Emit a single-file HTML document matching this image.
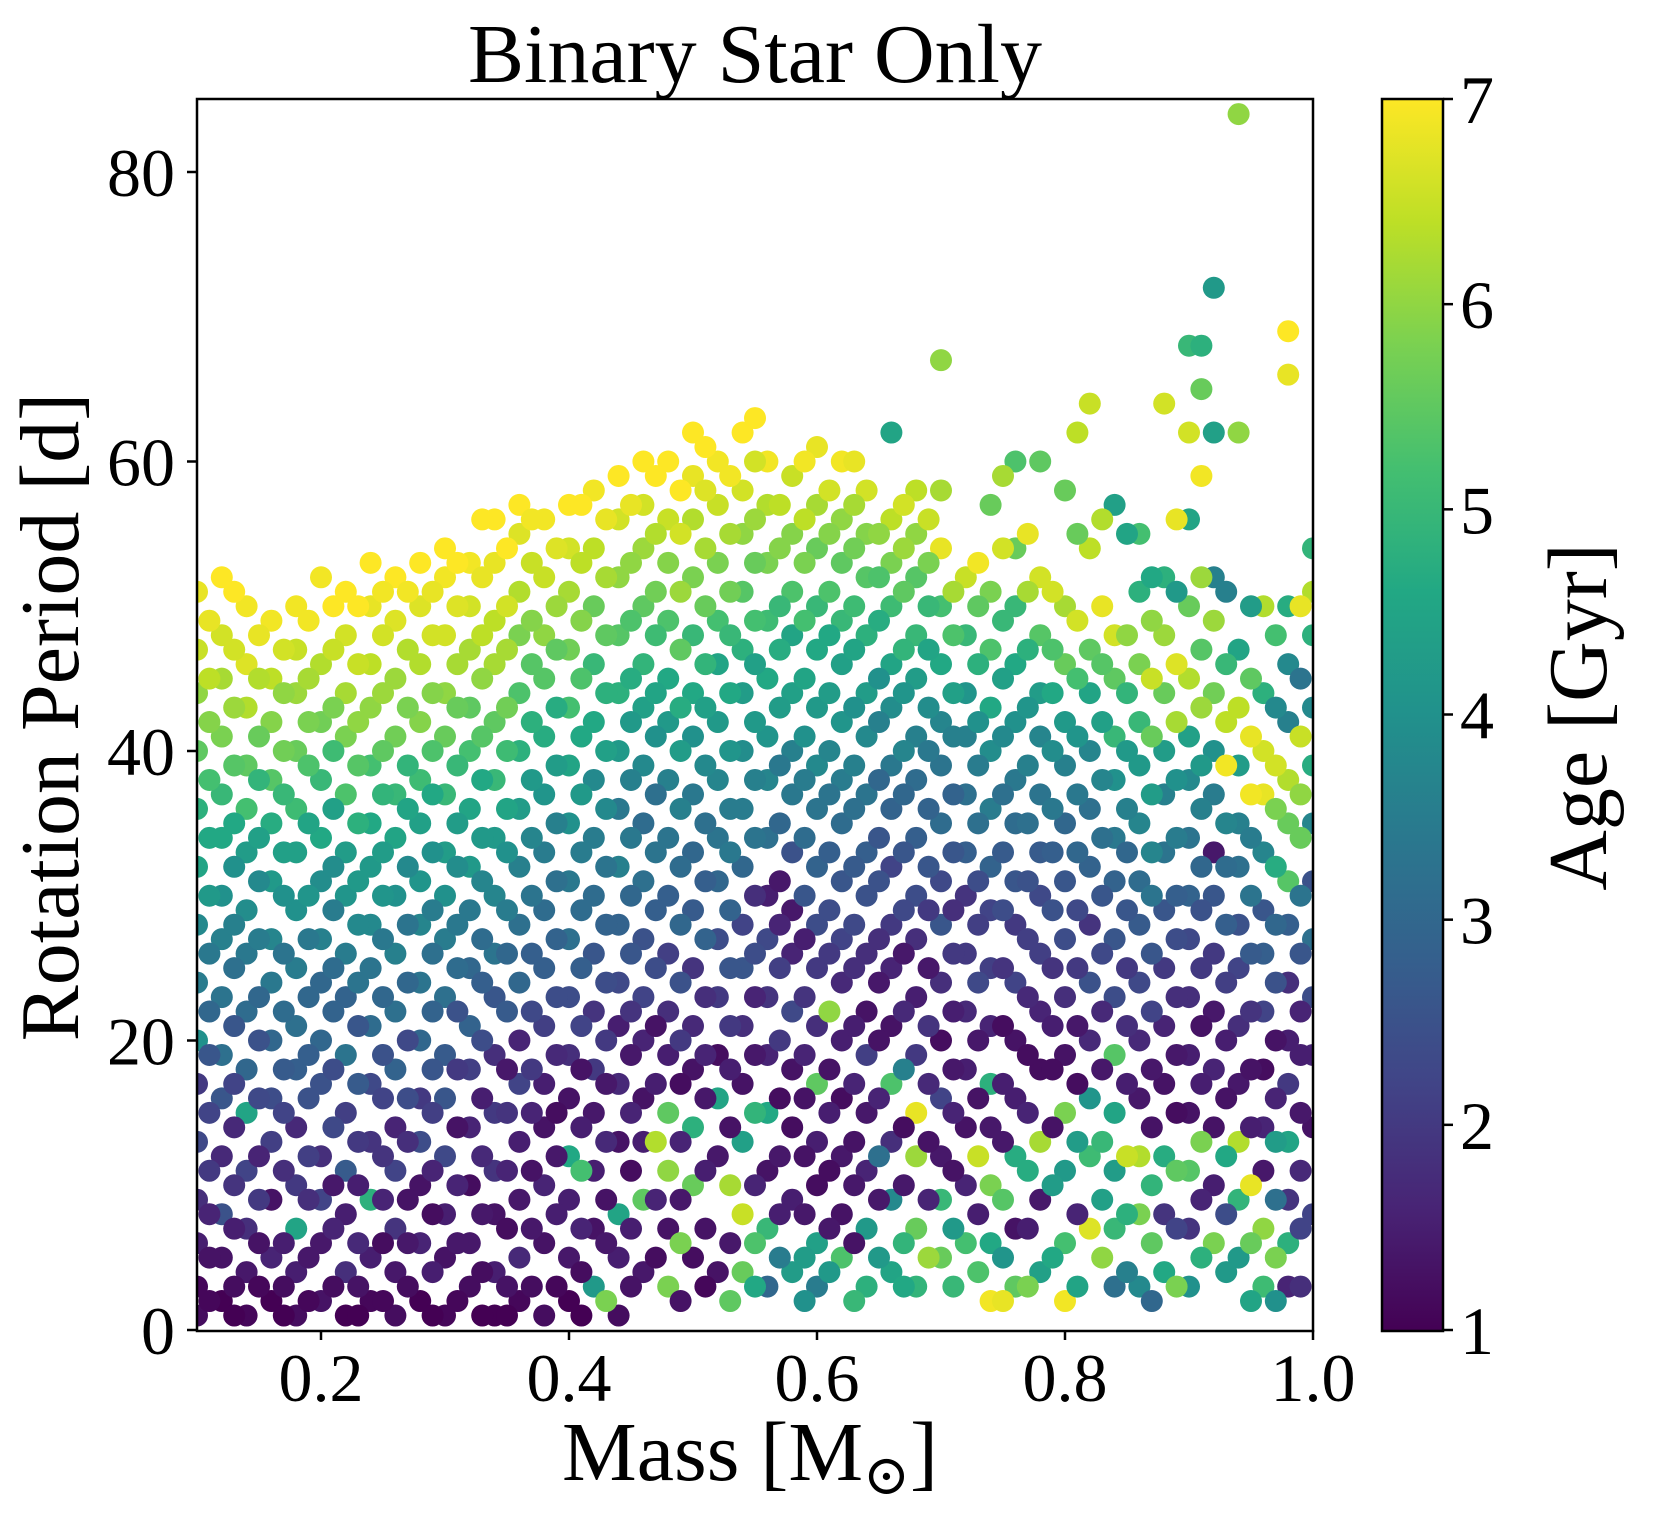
<!DOCTYPE html>
<html><head><meta charset="utf-8"><style>
html,body{margin:0;padding:0;background:#fff;}
svg{display:block;font-family:"Liberation Serif","DejaVu Serif",serif;}
</style></head><body>
<svg id="chart" width="1653" height="1531" viewBox="0 0 1653 1531" xmlns="http://www.w3.org/2000/svg">
<defs>
<linearGradient id="viridis" x1="0" y1="1" x2="0" y2="0">
<stop offset="0" stop-color="#440154"/><stop offset="0.1" stop-color="#482475"/><stop offset="0.2" stop-color="#414487"/><stop offset="0.3" stop-color="#355f8d"/><stop offset="0.4" stop-color="#2a788e"/><stop offset="0.5" stop-color="#21918c"/><stop offset="0.6" stop-color="#22a884"/><stop offset="0.7" stop-color="#44bf70"/><stop offset="0.8" stop-color="#7ad151"/><stop offset="0.9" stop-color="#bddf26"/><stop offset="1" stop-color="#fde725"/>
</linearGradient>
<clipPath id="plotclip"><rect x="197" y="99" width="1116" height="1232"/></clipPath>
</defs>
<text x="755" y="82" font-size="84" text-anchor="middle">Binary Star Only</text>
<g id="points" clip-path="url(#plotclip)"></g>
<rect x="197" y="99" width="1116" height="1232" fill="none" stroke="#000" stroke-width="2.5"/>
<g id="xaxis"></g>
<g id="yaxis"></g>
<text x="750" y="1480" font-size="84" text-anchor="middle">Mass [M<tspan font-size="56" dy="14">⊙</tspan><tspan dy="-14">]</tspan></text>
<text transform="translate(78,717) rotate(-90)" font-size="84" text-anchor="middle">Rotation Period [d]</text>
<rect x="1382" y="99" width="61" height="1232" fill="url(#viridis)" stroke="#000" stroke-width="2.5"/>
<g id="cbaxis"></g>
<text transform="translate(1606,717) rotate(-90)" font-size="84" text-anchor="middle">Age [Gyr]</text>
</svg>
<script>
const colMass = [0.10,0.12,0.14,0.16,0.18,0.20,0.22,0.24,0.26,0.28,0.30,0.32,0.34,0.36,0.38,0.40,0.42,0.44,0.46,0.48,0.50,0.52,0.54,0.56,0.58,0.60,0.62,0.64,0.66,0.68,0.70,0.72,0.74,0.76,0.78,0.80,0.82,0.84,0.86,0.88,0.90,0.92,0.94,0.96,0.98,1.00];
const colPeriods = [
[1,3,6,9,13,17,20,24,28,32,36,40,44,47,51],
[2,5,8,12,16,19,23,27,30,34,37,41,45,48,52],
[1,4,7,11,15,18,22,26,29,33,36,39,43,46,50],
[2,5,9,13,16,20,24,27,31,35,38,42,45,49],
[1,4,7,10,14,18,21,25,29,33,36,40,44,47,50],
[2,6,9,12,17,20,24,27,31,34,38,42,46,52],
[1,4,8,11,15,19,23,26,30,33,37,41,44,48,51],
[2,5,9,13,17,21,25,28,32,35,39,43,46,50,53],
[1,4,7,11,14,18,22,26,30,34,37,41,45,49,52],
[2,6,10,13,16,20,24,28,31,35,38,42,46,50,53],
[1,5,8,12,16,19,23,27,30,33,37,41,44,48,52,54],
[3,6,10,14,18,21,25,29,32,36,40,43,47,50,53],
[1,4,8,11,15,19,23,26,30,34,38,42,46,49,53,56],
[2,5,9,13,17,20,24,28,32,36,40,44,48,51,55,57],
[1,6,10,14,17,21,25,29,33,37,41,45,48,52,56],
[2,5,9,12,16,19,23,27,31,35,39,43,47,51,54,57],
[3,7,11,15,18,22,26,30,34,38,42,46,50,54,58],
[1,5,8,13,17,21,24,28,32,36,40,44,48,52,56,59],
[4,9,13,16,20,23,27,31,35,39,43,46,50,54,57,60],
[3,7,11,15,19,22,26,30,34,38,42,45,49,53,56,60],
[5,10,14,18,21,25,29,33,37,41,44,48,52,56,59,62],
[4,12,16,19,23,27,31,34,38,42,46,49,53,57,60],
[4,8,13,17,21,25,28,32,36,40,44,47,51,55,58,62],
[3,7,11,15,19,23,27,30,34,38,41,45,49,53,57,60],
[4,9,14,18,22,26,29,33,37,40,44,48,51,55,59],
[3,6,10,13,17,21,25,28,32,36,39,43,47,50,54,57,61],
[5,8,12,16,20,24,27,31,35,38,42,46,49,53,56,60],
[3,7,11,15,19,22,26,30,33,37,41,44,48,52,55,58],
[4,9,13,17,21,25,28,32,36,39,43,46,50,53,56,62],
[3,7,12,15,19,23,27,30,34,38,41,45,48,52,55,58],
[5,9,12,16,20,24,28,31,35,39,42,46,50,54,58,67],
[6,10,14,18,22,26,30,33,37,41,44,48,52],
[2,6,10,14,17,21,25,29,32,36,40,43,47,51,57],
[3,7,12,16,20,24,28,31,35,38,42,46,50,54,60],
[4,9,13,18,22,26,30,33,37,41,44,48,52,60],
[2,6,11,15,19,23,27,31,35,39,42,46,50,58],
[7,12,16,20,24,28,32,36,40,44,47,54,64],
[3,7,11,15,19,23,27,31,34,38,41,45,48,57],
[3,8,12,16,20,24,28,31,35,39,42,46,51,55],
[4,8,12,17,21,25,29,33,37,40,44,48,52,64],
[3,7,11,15,19,23,27,30,34,38,41,45,50,56,62,68],
[6,10,14,18,22,26,30,33,37,40,44,49,52,62,72],
[5,9,13,17,21,25,28,32,35,39,43,47,62,84],
[3,7,11,14,18,22,26,29,33,37,40,44,50],
[3,6,9,13,17,20,24,28,31,35,38,42,46,50,66,69],
[8,14,19,23,27,31,35,39,43,48,51,54]
];
const colAges = [
[1.2,1.1,1.5,1.8,2.3,2,4,3.5,3.8,4.5,4.8,5.5,6,6.5,6.8],
[1,1.3,2.5,1.7,2.6,3.2,3.3,3.6,4,4.6,5,5.8,6.2,6.6,7],
[1.1,1.4,1.8,2.2,4.5,3,3.1,3.4,3.9,4.3,5.2,5.5,6.3,6.7,6.9],
[1,1.6,1.3,2.1,2.4,3,3.4,3.7,4.2,4.7,5.4,5.9,6.4,6.9],
[1.2,1.5,4.5,2,1.7,2.8,3.2,3.5,4,4.4,5.1,5.6,6.1,6.5,6.9],
[1.3,1.4,2.2,1.8,2.5,3,3,3.6,3.9,4.6,5,5.7,6.3,6.9],
[1,1.8,1.5,2.7,2.1,3.3,2.9,3.5,4.1,4.3,5.3,5.8,6.2,6.6,7],
[1.1,1.5,4.8,1.9,2.3,3.1,3.3,3.8,4.2,4.6,5.2,6,6.4,6.8,7],
[1.2,1.4,1.9,2.2,1.6,2.9,3.2,3.6,4.0,4.5,5.0,5.7,6.1,6.7,7],
[1.0,1.6,1.3,2.4,2.0,3.0,3.3,3.7,4.1,4.4,5.1,5.9,6.3,6.7,7],
[1.1,1.3,1.5,2.3,2.6,2.7,3.2,3.5,4.0,4.3,5.0,5.6,6.0,6.6,6.9,7],
[1.2,1.4,1.2,1.6,2.1,2.9,3.0,3.4,4.2,4.5,5.2,5.5,6.2,6.6,6.9],
[1.0,1.5,1.3,1.9,2.0,1.8,2.6,3.3,3.7,4.2,5.0,5.5,6.2,6.4,6.8,7],
[1.1,1.7,1.4,1.5,2.2,1.6,3.0,3.2,3.6,4.3,4.8,5.3,5.8,6.3,6.7,7],
[1.2,1.3,1.6,1.3,1.5,2.1,2.8,3.1,3.5,4.1,4.7,5.4,6.0,6.5,6.9],
[1.0,1.4,1.5,4.6,1.3,1.8,2.4,3.2,3.4,4.0,4.5,5.2,5.7,6.2,6.6,7],
[4.2,1.3,1.5,1.4,2.0,1.9,2.6,3.1,3.5,3.8,4.6,5.0,5.6,6.4,6.9],
[1.2,1.5,4.5,1.3,1.7,1.5,2.3,2.9,3.6,3.4,4.2,4.8,5.4,6.0,6.6,7],
[1.4,5.5,1.5,1.3,1.6,2.2,2.5,3.2,3.1,3.8,4.4,4.9,5.5,6.1,6.6,7],
[5.8,1.3,6,5.5,1.5,1.8,2.1,2.8,3.3,3.6,4.2,4.6,5.3,5.9,6.5,7],
[1.2,5.6,4.8,1.3,1.7,1.9,2.7,3.0,3.4,4.0,4.6,5.0,5.8,6.3,6.8,7],
[1.3,1.4,4.5,1.2,2.0,2.4,3.0,3.3,3.7,4.2,4.5,5.2,5.8,6.5,6.9],
[5.6,6.5,4.4,1.3,1.8,2.6,2.2,3.0,3.5,3.9,4.3,4.8,5.4,6.0,6.6,7],
[3.0,5,1.3,4.6,1.6,1.9,2.3,1.5,3.2,3.7,4.1,4.6,5.1,5.8,6.3,6.9],
[4.3,1.5,1.2,1.3,2.3,1.6,1.4,2.5,3.4,3.6,4.4,4.5,5.3,5.9,6.5],
[3.5,4.4,1.2,1.5,5.5,1.8,2.0,2.4,2.9,3.3,3.8,4.2,4.6,5.0,5.6,6.2,6.8],
[5.3,1.3,1.4,1.2,1.5,1.7,2.2,2.6,3.1,3.5,4.1,4.4,5.0,5.5,6.0,6.9],
[4.8,4.2,1.6,1.4,2.1,1.3,1.8,2.5,2.8,3.3,3.8,4.3,4.8,5.4,5.9,6.6],
[4.5,3.8,1.8,5.3,1.3,1.6,2.0,2.2,2.9,3.4,3.9,4.5,5.1,5.8,6.4,4.5],
[4.9,5.6,6.1,6.8,2.0,1.5,1.8,2.4,2.8,3.1,3.6,4.3,5.0,5.4,6.0,6.4],
[5.6,5.0,1.4,2.2,1.2,1.8,2.6,2.3,3.1,3.3,3.7,4.6,5.2,6.8,6.2,6.0],
[5.2,1.6,1.3,1.5,1.7,2.0,1.9,2.8,3.2,3.6,4.1,5.0,6.5],
[6.9,4.6,5.8,1.4,4.8,1.6,2.1,2.2,2.9,3.5,3.9,4.6,5.3,5.8,5.6],
[5.5,1.3,4.7,1.5,1.3,2.2,2.0,2.6,3.1,3.4,4.0,4.6,5.0,5.6,5.3],
[4.4,1.4,6.2,1.2,1.6,2.1,2.3,2.7,3.3,3.7,4.3,5.4,6.6,5.5],
[6.9,5.2,4.2,5.8,1.3,1.8,2.4,2.6,3.0,3.6,4.2,5.6,6.2,5.6],
[6.7,5.1,4.1,1.7,2.5,1.9,2.9,3.2,3.7,4.5,5.5,6.4,6.5],
[3.2,5.0,4.3,4.5,5.4,2.4,2.6,2.9,3.4,4.0,5.0,5.5,6.6,4.4],
[3.8,5.8,6.3,1.4,1.7,2.3,2.7,3.1,3.7,4.2,5.0,5.8,4.8,5.2],
[4.6,1.9,4.7,1.3,1.6,2.0,2.6,3.3,3.6,4.3,5.6,6.1,4.8,6.6],
[4.0,1.9,5.4,1.3,1.5,1.8,2.3,2.9,3.3,3.8,4.4,6.3,5.6,4.5,6.6,5.0],
[5.8,1.5,1.3,1.6,1.4,2.0,2.6,1.4,3.5,4.0,5.7,6.1,3.6,4.4,4.2],
[4.2,4.9,6.3,1.4,1.8,2.2,2.5,3.2,3.6,4.3,6.4,4.5,6.0,6.0],
[5.1,6.0,1.4,1.6,1.2,2.2,2.8,2.6,3.7,6.8,6.6,4.8,6.3],
[1.6,4.8,1.9,4.5,2.0,1.5,1.8,2.8,5.4,5.6,6.3,3.6,3.8,4.7,6.8,7],
[2.2,1.3,1.6,2.4,3.2,2.5,3.7,4.7,3.8,4.8,6.3,4.9]
];
const colMass2 = [0.11,0.13,0.15,0.17,0.19,0.21,0.23,0.25,0.27,0.29,0.31,0.33,0.35,0.37,0.39,0.41,0.43,0.45,0.47,0.49,0.51,0.53,0.55,0.57,0.59,0.61,0.63,0.65,0.67,0.69,0.71,0.73,0.75,0.77,0.79,0.81,0.83,0.85,0.87,0.89,0.91,0.93,0.95,0.97,0.99];
const colPeriods2 = [
[2,5,8,11,15,19,22,26,30,34,38,42,45,49],
[1,3,7,10,14,17,21,25,28,32,35,39,43,47,51],
[3,6,9,12,16,20,23,27,31,34,38,41,45,48],
[1,3,6,11,15,18,22,26,30,33,37,40,44,47],
[2,5,9,12,16,19,23,27,30,35,39,42,45,49],
[3,7,10,14,18,22,25,29,32,36,40,43,47,50],
[1,3,6,10,13,17,21,24,28,31,35,39,42,46,50],
[2,6,9,12,16,19,23,27,30,33,37,40,44,48,51],
[3,6,9,13,16,20,24,28,32,36,39,43,47,51],
[1,4,8,11,15,18,22,26,29,33,37,40,44,48,51],
[2,6,10,14,18,22,25,28,32,35,39,43,46,50,53],
[1,4,8,12,16,20,24,27,31,34,38,41,45,48,52,56],
[1,3,7,11,15,18,22,26,29,33,36,40,43,47,50,54],
[3,7,11,15,18,22,26,30,34,38,42,46,49,53,56],
[3,8,12,15,19,23,27,31,35,39,43,47,50,54],
[1,4,7,11,14,18,21,25,29,33,37,41,45,49,53,57],
[2,6,9,13,17,20,24,28,32,36,40,44,48,52,56],
[3,7,11,15,19,22,26,30,34,38,42,45,49,53,57],
[5,9,13,17,21,25,29,33,37,41,44,48,51,55,59],
[2,6,9,13,17,20,24,28,32,36,40,43,47,51,55,58],
[3,7,11,16,19,23,27,31,35,39,43,46,50,54,58,61],
[2,6,10,14,18,21,25,29,33,36,40,44,48,51,55,59],
[3,6,10,15,19,23,26,30,34,38,42,46,49,53,56,60,63],
[5,8,12,16,20,25,28,31,35,39,43,47,50,54,57],
[2,5,8,12,16,19,23,27,30,34,38,41,45,49,53,56,60],
[4,7,11,15,18,22,26,29,33,37,40,44,48,51,55,58],
[2,6,10,13,17,21,25,28,32,36,39,43,47,50,54,57,60],
[5,9,12,16,20,24,27,31,34,38,42,45,49,52,55],
[3,6,10,14,18,22,26,29,33,37,40,44,47,51,54,57],
[5,9,13,17,21,25,29,32,36,40,43,47,50,53,56],
[3,7,11,15,18,22,26,29,33,37,41,44,48,51],
[4,8,12,16,20,24,28,31,35,39,42,46,50,53],
[2,5,9,13,17,21,25,29,33,37,41,45,49,54,59],
[3,7,11,15,19,23,27,31,35,39,43,47,51,55],
[5,10,14,18,21,25,29,33,36,40,44,47,51],
[3,8,13,17,21,25,29,33,37,41,45,49,55,62],
[5,9,13,18,22,26,30,34,38,42,46,50,56],
[4,8,12,17,21,25,29,33,36,40,44,48,55],
[2,6,10,14,18,22,26,30,33,37,41,45,49,52],
[3,7,11,15,19,23,27,30,34,38,42,46,51,56],
[5,9,13,17,21,25,29,32,36,39,43,47,52,59,65,68],
[4,8,12,16,20,24,28,32,35,39,42,46,51],
[2,6,10,14,18,22,26,30,34,37,41,45,50],
[2,5,9,13,16,20,24,28,32,36,39,43,48],
[3,7,11,15,19,22,26,30,34,37,41,45,50]
];
const colAges2 = [
[1.1,1.3,1.6,2.0,2.2,2.6,3.0,3.4,4.2,4.6,5.2,5.9,6.4,6.8],
[1.0,1.2,1.5,1.9,1.7,2.2,2.6,3.2,3.6,4.0,4.6,5.4,6.1,6.6,7],
[1.1,1.3,2.0,1.6,2.3,2.5,3.0,3.5,3.8,4.4,4.9,5.6,6.3,6.8],
[1.0,1.2,1.5,1.8,2.2,2.7,3.1,3.3,4.0,4.4,5.0,5.7,6.0,6.6],
[1.1,1.4,1.8,2.1,2.5,2.8,3.0,3.4,4.1,4.5,5.3,5.8,6.2,6.9],
[1.2,1.6,1.4,2.3,2.4,2.9,3.1,3.5,3.9,4.4,5.1,5.8,6.5,7],
[1.0,1.3,1.7,1.5,2.0,2.7,2.6,3.3,3.8,4.2,4.8,5.4,6.0,6.5,7],
[1.1,1.2,1.6,1.9,2.2,2.5,3.0,3.4,4.1,4.3,4.9,5.5,6.1,6.6,6.9],
[1.2,1.4,1.3,1.8,2.4,2.3,3.0,3.3,3.8,4.5,4.9,5.8,6.3,6.9],
[1.0,1.5,1.2,1.6,2.1,2.6,2.9,3.2,3.5,4.0,4.6,5.3,5.9,6.6,6.8],
[1.1,1.4,1.6,1.3,2.0,2.5,3.1,3.4,3.9,4.3,5.0,5.6,6.2,6.7,7],
[1.0,1.2,1.4,1.7,1.5,2.4,2.8,3.1,3.7,4.2,4.6,5.4,6.0,6.4,6.8,7],
[1.0,1.3,1.2,1.6,1.9,1.4,2.7,3.0,3.5,4.0,4.5,5.1,5.7,6.2,6.6,7],
[1.2,1.4,1.3,1.6,2.0,2.3,2.8,3.3,3.7,4.2,4.8,5.4,5.9,6.5,6.9],
[1.1,1.5,1.4,1.2,1.7,2.4,2.9,3.2,3.6,4.3,4.7,5.5,6.1,6.7],
[1.0,1.2,1.6,5.2,1.5,1.3,2.2,2.8,3.1,3.5,4.2,4.6,5.3,5.9,6.4,7],
[5.8,1.4,1.3,1.7,1.4,2.0,2.4,2.9,3.3,3.8,4.4,4.8,5.5,6.2,6.8],
[1.3,1.5,1.2,1.6,1.4,1.9,2.6,3.0,3.4,3.6,4.2,4.7,5.3,6.0,6.8],
[1.2,1.6,6.3,1.5,1.3,2.4,2.8,3.3,3.2,4.0,4.5,5.1,5.7,6.3,7],
[1.3,5.8,1.4,1.6,1.2,2.0,2.5,3.0,3.1,3.6,4.3,4.7,5.5,6.1,6.6,7],
[1.1,1.3,1.5,1.4,1.6,1.8,2.9,2.8,3.2,3.8,4.4,4.9,5.6,6.2,6.7,7],
[5.5,1.4,6.2,1.3,1.5,2.0,2.6,2.9,3.4,3.5,4.1,4.6,5.0,5.7,6.2,6.9],
[4.6,5.3,1.6,4.9,1.4,1.6,2.4,1.8,3.3,3.6,4.2,4.4,5.2,5.6,6.1,6.6,7],
[3.5,1.5,1.4,1.2,2.0,2.1,1.6,1.4,3.0,3.4,4.3,4.7,5.0,5.9,6.4],
[4.0,4.3,1.4,1.3,1.3,1.6,1.9,1.5,2.6,3.1,3.5,4.0,4.5,5.2,5.8,6.4,6.9],
[4.2,1.4,1.2,1.5,1.3,6.0,2.0,2.4,2.8,3.3,3.7,4.3,4.6,5.3,5.9,6.6],
[5.0,1.3,1.4,1.3,1.6,1.5,1.8,2.3,2.7,3.2,3.6,4.0,4.5,5.1,5.7,6.2,6.8],
[4.2,1.4,3.2,1.6,1.3,1.4,1.8,2.5,2.6,3.0,3.6,4.0,4.7,5.3,6.0],
[4.6,4.9,1.4,1.2,3.6,1.7,1.4,2.3,2.6,3.0,3.7,4.1,4.9,5.5,6.1,6.6],
[6.1,1.6,1.3,1.7,1.9,1.4,2.0,2.6,2.9,3.4,3.9,4.5,5.0,5.8,6.5],
[5.0,4.2,1.3,1.6,1.4,1.5,2.0,1.8,2.6,2.9,3.6,4.4,5.3,6.2],
[5.3,1.5,6.5,1.3,1.4,2.3,2.1,2.4,3.2,3.5,4.0,4.8,5.5,6.9],
[6.8,4.1,5.4,1.4,1.5,1.2,1.9,2.4,2.7,3.2,3.8,4.4,5.0,6.6,6.2],
[5.8,1.5,4.7,1.6,1.2,1.7,2.1,2.5,3.2,3.6,4.1,4.8,6.2,6.8],
[4.6,4.3,1.3,1.2,1.5,1.9,2.5,2.8,3.4,3.9,4.6,5.3,6.6],
[4.5,1.6,4.3,1.2,1.4,2.0,2.3,3.0,3.4,4.1,5.2,6.6,5.6,6.4],
[6.0,4.4,5.0,1.4,1.7,2.3,2.6,3.2,3.7,4.4,5.4,6.8,6.3],
[3.6,4.8,6.5,1.5,1.8,2.0,2.6,3.0,3.6,4.2,4.9,6.0,4.5],
[3.0,5.5,4.9,1.3,1.4,2.2,2.6,3.3,3.7,4.3,5.6,6.5,6.0,4.6],
[5.8,2.2,5.5,1.2,1.4,1.8,2.4,2.8,3.5,4.0,6.2,6.7,4.2,6.8],
[4.8,1.6,5.8,1.5,1.3,2.0,2.5,3.0,3.6,4.2,6.1,5.4,6.1,6.9,5.6,4.8],
[4.2,2.4,4.6,1.3,1.5,2.1,2.8,3.1,3.7,6.9,6.4,5.0,3.6],
[4.5,5.6,6.8,1.5,1.3,1.9,2.7,3.3,3.5,6.9,6.8,5.5,4.3],
[4.0,5.8,3.2,4.3,1.6,1.3,2.5,3.0,4.7,5.8,6.6,3.8,5.2],
[1.8,2.2,1.7,1.4,1.5,1.6,2.6,3.3,5.6,6.0,6.5,3.3,6.8]
];
const xTicks = [0.2,0.4,0.6,0.8,1.0];
const xTickLabels = ["0.2","0.4","0.6","0.8","1.0"];
const yTicks = [0,20,40,60,80];
const cbTicks = [1,2,3,4,5,6,7];

const NS = "http://www.w3.org/2000/svg";
const X0 = 197, X1 = 1313, Y0 = 1330;
const xScale = m => X0 + (m - 0.1) / 0.9 * (X1 - X0);
const yScale = p => Y0 - p / 80 * (Y0 - 172);
const cbScale = a => 1330 - (a - 1) / 6 * (1330 - 99);
const stops = ["#440154","#482475","#414487","#355f8d","#2a788e","#21918c","#22a884","#44bf70","#7ad151","#bddf26","#fde725"];
function hex(h){return [1,3,5].map(i=>parseInt(h.substr(i,2),16));}
function viridis(a){
  let t = Math.max(0, Math.min(1, (a - 1) / 6)) * 10;
  let i = Math.min(9, Math.floor(t)), f = t - i;
  const c0 = hex(stops[i]), c1 = hex(stops[i+1]);
  return "rgb(" + c0.map((v,k)=>Math.round(v + (c1[k]-v)*f)).join(",") + ")";
}
const pts = document.getElementById("points");
function drawSet(masses, periods, ages){
  masses.forEach((m, ci) => {
    periods[ci].forEach((p, pi) => {
      const a = ages[ci][pi];
      if (a === undefined) return;
      const c = document.createElementNS(NS, "circle");
      c.setAttribute("cx", xScale(m));
      c.setAttribute("cy", yScale(p));
      c.setAttribute("r", 11);
      c.setAttribute("fill", viridis(a));
      
      
      pts.appendChild(c);
    });
  });
}
drawSet(colMass, colPeriods, colAges);
drawSet(colMass2, colPeriods2, colAges2);

const xa = document.getElementById("xaxis");
xTicks.forEach((v, i) => {
  const x = xScale(v);
  const l = document.createElementNS(NS, "line");
  l.setAttribute("x1", x); l.setAttribute("x2", x);
  l.setAttribute("y1", Y0); l.setAttribute("y2", Y0 + 10);
  l.setAttribute("stroke", "#000"); l.setAttribute("stroke-width", "2.5");
  
  
  xa.appendChild(l);
  const t = document.createElementNS(NS, "text");
  t.setAttribute("x", x); t.setAttribute("y", 1401);
  t.setAttribute("font-size", "68"); t.setAttribute("text-anchor", "middle");
  t.textContent = xTickLabels[i];
  
  
  xa.appendChild(t);
});
const ya = document.getElementById("yaxis");
yTicks.forEach(v => {
  const y = yScale(v);
  const l = document.createElementNS(NS, "line");
  l.setAttribute("x1", X0 - 10); l.setAttribute("x2", X0);
  l.setAttribute("y1", y); l.setAttribute("y2", y);
  l.setAttribute("stroke", "#000"); l.setAttribute("stroke-width", "2.5");
  
  
  ya.appendChild(l);
  const t = document.createElementNS(NS, "text");
  t.setAttribute("x", 175); t.setAttribute("y", y + 24);
  t.setAttribute("font-size", "68"); t.setAttribute("text-anchor", "end");
  t.textContent = String(v);
  
  
  ya.appendChild(t);
});
const cba = document.getElementById("cbaxis");
cbTicks.forEach(v => {
  const y = cbScale(v);
  const l = document.createElementNS(NS, "line");
  l.setAttribute("x1", 1443); l.setAttribute("x2", 1453);
  l.setAttribute("y1", y); l.setAttribute("y2", y);
  l.setAttribute("stroke", "#000"); l.setAttribute("stroke-width", "2.5");
  
  
  cba.appendChild(l);
  const t = document.createElementNS(NS, "text");
  t.setAttribute("x", 1460); t.setAttribute("y", y + 24);
  t.setAttribute("font-size", "68");
  t.textContent = String(v);
  
  
  cba.appendChild(t);
});
</script>
</body></html>
